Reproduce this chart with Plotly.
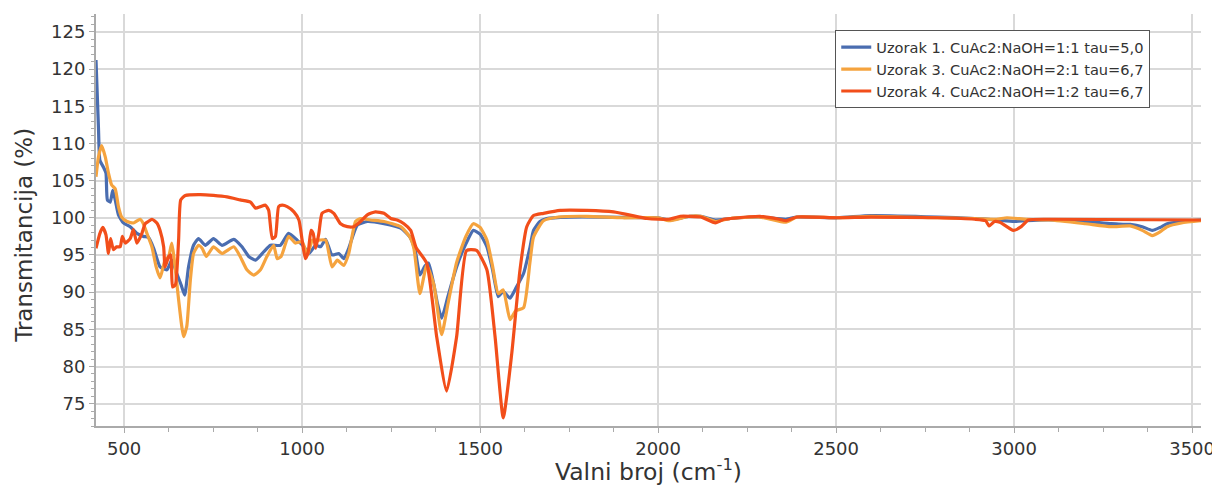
import plotly.graph_objects as go

# Uzorak 1 (blue)
x_u1 = [421, 425, 428, 432, 442, 449, 453, 461, 468, 475, 484, 498, 517, 536, 554, 568, 583,
        601, 620, 634, 648, 660, 670, 681, 695, 709, 728, 751, 775, 808, 831, 850, 869, 892,
        911, 939, 962, 986, 1005, 1019, 1038, 1052, 1066, 1084, 1103, 1117, 1131, 1155, 1183,
        1230, 1277, 1303, 1318, 1331, 1345, 1355, 1370, 1380, 1392, 1410, 1434, 1460, 1481,
        1500, 1519, 1535, 1551, 1565, 1584, 1600, 1622, 1640, 1650, 1668, 1687, 1750, 1850,
        1950, 2000, 2031, 2088, 2120, 2161, 2203, 2286, 2359, 2390, 2504, 2598, 2785, 2889,
        2950, 3000, 3034, 3097, 3200, 3273, 3326, 3360, 3388, 3410, 3430, 3470, 3525]
y_u1 = [121.2, 116.0, 112.0, 107.7, 106.8, 106.0, 102.4, 102.1, 103.7, 102.4, 100.4, 99.3, 98.8,
        97.9, 97.5, 97.4, 95.9, 93.4, 93.0, 94.3, 92.5, 91.0, 89.6, 93.4, 96.3, 97.2, 96.3, 97.2,
        96.3, 97.1, 96.1, 94.8, 94.3, 95.4, 96.3, 96.3, 97.9, 97.0, 96.1, 95.2, 96.3, 96.1, 97.1,
        95.0, 95.2, 94.5, 95.9, 99.0, 99.5, 99.2, 98.6, 97.4, 95.5, 92.3, 93.5, 93.9, 91.0, 88.5,
        86.5, 89.5, 93.4, 96.5, 98.3, 97.8, 96.1, 93.0, 89.4, 90.1, 89.2, 90.5, 92.5, 96.0, 98.3,
        99.5, 99.9, 100.1, 100.1, 100.0, 100.0, 99.7, 100.2, 100.2, 99.7, 99.9, 100.1, 99.8,
        100.1, 100.0, 100.3, 100.1, 99.9, 99.7, 99.5, 99.6, 99.7, 99.5, 99.2, 99.1, 98.8, 98.3,
        98.7, 99.2, 99.5, 99.7]

# Uzorak 3 (orange)
x_u3 = [421, 428, 437, 447, 456, 465, 475, 484, 493, 508, 526, 545, 554, 564, 578, 590, 601,
        615, 625, 634, 641, 653, 667, 676, 686, 695, 709, 719, 731, 751, 775, 808, 826, 845,
        864, 883, 901, 920, 930, 941, 962, 981, 1000, 1015, 1029, 1047, 1066, 1084, 1099, 1117,
        1131, 1150, 1164, 1192, 1230, 1277, 1303, 1314, 1331, 1350, 1370, 1392, 1410, 1434,
        1460, 1481, 1500, 1519, 1535, 1551, 1565, 1584, 1600, 1622, 1640, 1650, 1678, 1720,
        1800, 1900, 2000, 2031, 2088, 2120, 2161, 2203, 2286, 2359, 2390, 2504, 2598, 2785,
        2889, 2950, 2980, 3034, 3100, 3200, 3273, 3326, 3360, 3388, 3410, 3430, 3470, 3525]
y_u3 = [105.5, 108.2, 109.7, 108.2, 106.0, 104.4, 103.9, 101.5, 100.1, 99.5, 99.3, 99.8, 99.2,
        97.9, 96.1, 93.4, 91.9, 94.3, 94.8, 96.6, 94.3, 89.0, 84.0, 85.4, 91.6, 95.2, 96.3, 95.9,
        94.8, 96.1, 95.2, 96.1, 94.8, 93.0, 92.3, 93.0, 94.8, 96.3, 94.5, 94.8, 97.5, 96.6, 96.8,
        95.0, 97.0, 97.0, 97.0, 93.4, 94.3, 93.6, 95.2, 99.5, 99.9, 99.7, 99.5, 98.8, 97.4, 95.9,
        89.8, 93.6, 91.0, 84.3, 88.5, 94.0, 97.5, 99.2, 98.7, 97.0, 93.5, 89.8, 90.3, 86.3, 87.5,
        87.9, 94.0, 97.4, 99.6, 100.1, 100.2, 100.0, 100.0, 99.6, 100.2, 100.2, 99.5, 99.9, 100.1,
        99.4, 100.1, 100.0, 100.2, 100.0, 99.9, 99.8, 100.0, 99.8, 99.7, 99.2, 98.8, 98.9, 98.3,
        97.6, 98.1, 98.8, 99.3, 99.6]

# Uzorak 4 (red)
x_u4 = [421, 432, 440, 449, 456, 462, 470, 479, 489, 495, 503, 517, 526, 536, 550, 559, 568,
        578, 592, 601, 611, 615, 625, 631, 636, 644, 653, 659, 672, 714, 751, 789, 826, 855,
        869, 883, 897, 906, 916, 925, 934, 944, 958, 977, 991, 1000, 1009, 1017, 1025, 1031,
        1038, 1047, 1056, 1075, 1089, 1108, 1127, 1145, 1164, 1183, 1206, 1230, 1249, 1267,
        1286, 1305, 1320, 1350, 1378, 1406, 1434, 1462, 1490, 1519, 1542, 1565, 1589, 1612,
        1631, 1650, 1678, 1725, 1800, 1875, 1969, 2000, 2031, 2062, 2088, 2120, 2161, 2185,
        2203, 2286, 2340, 2359, 2390, 2504, 2598, 2785, 2889, 2920, 2930, 2945, 2960, 2998,
        3020, 3040, 3100, 3525]
y_u4 = [95.9, 97.9, 98.7, 97.7, 95.2, 97.2, 95.7, 96.1, 96.1, 97.5, 96.6, 97.2, 98.4, 96.6,
        97.9, 99.2, 99.5, 99.8, 99.3, 98.3, 96.1, 93.4, 94.8, 95.0, 90.7, 91.0, 97.0, 102.4,
        103.0, 103.1, 103.0, 102.8, 102.4, 102.1, 101.3, 101.5, 101.7, 101.0, 97.2, 97.5, 101.5,
        101.7, 101.5, 100.8, 99.7, 97.0, 94.5, 95.4, 98.3, 97.9, 95.9, 97.9, 100.6, 101.0, 100.6,
        99.2, 98.8, 98.8, 99.5, 100.4, 100.8, 100.6, 99.9, 99.7, 99.2, 98.3, 96.0, 93.9, 84.0,
        76.7, 84.0, 95.6, 95.6, 93.0, 84.0, 73.1, 81.8, 93.0, 98.8, 100.3, 100.6, 101.0, 101.0,
        100.8, 99.9, 99.8, 99.8, 100.2, 100.2, 100.1, 99.3, 99.8, 99.9, 100.2, 99.8, 99.6, 100.1,
        100.0, 100.1, 100.0, 99.8, 99.6, 98.9, 99.5, 99.4, 98.3, 98.8, 99.7, 99.8, 99.7]

names = ["Uzorak 1. CuAc2:NaOH=1:1 tau=5,0",
         "Uzorak 3. CuAc2:NaOH=2:1 tau=6,7",
         "Uzorak 4. CuAc2:NaOH=1:2 tau=6,7"]
colors = ["#4a6db0", "#f5a33e", "#f24e1a"]

x_ticks = [500, 1000, 1500, 2000, 2500, 3000, 3500]
y_ticks = [75, 80, 85, 90, 95, 100, 105, 110, 115, 120, 125]

fig = go.Figure()
for xs, ys, nm, c in zip([x_u1, x_u3, x_u4], [y_u1, y_u3, y_u4], names, colors):
    fig.add_trace(go.Scatter(x=xs, y=ys, mode="lines", name=nm,
                             line=dict(color=c, width=3.2, shape="spline", smoothing=0.5)))

# page body has an 8px margin, so the figure is sized/offset to compensate
fig.update_layout(
    width=1212, height=478,
    margin=dict(l=88, r=19, t=6, b=60),
    paper_bgcolor="white", plot_bgcolor="white",
    font=dict(family="DejaVu Sans", color="#333333"),
    legend=dict(x=0.669, y=0.961, xanchor="left", yanchor="top",
                bordercolor="#555555", borderwidth=1, bgcolor="white",
                font=dict(size=14.6, color="#333333"), itemwidth=30,
                tracegroupgap=0),
    showlegend=True,
)
fig.add_annotation(
    text="Transmitancija (%)", textangle=-90, showarrow=False,
    xref="paper", yref="paper", x=-0.0652, y=0.464,
    xanchor="center", yanchor="middle", font=dict(size=23, color="#333333"),
)
fig.update_xaxes(
    range=[421, 3525], tickvals=x_ticks, ticktext=[str(v) for v in x_ticks],
    showgrid=True, gridcolor="#d9d9d9", gridwidth=1.5,
    showline=True, linecolor="#aaaaaa", linewidth=2,
    ticks="outside", ticklen=5, tickcolor="#aaaaaa",
    minor=dict(dtick=125, tick0=0, ticks="outside", ticklen=4, tickcolor="#aaaaaa", showgrid=False),
    tickfont=dict(size=18),
    title=dict(text="Valni broj (cm<sup>-1</sup>)", font=dict(size=23.5), standoff=0),
    zeroline=False, automargin=False,
)
fig.update_yaxes(
    range=[72, 127.4], tickvals=y_ticks, ticktext=[str(v) for v in y_ticks],
    showgrid=True, gridcolor="#d9d9d9", gridwidth=1.5,
    showline=True, linecolor="#aaaaaa", linewidth=2,
    ticks="outside", ticklen=5, tickcolor="#aaaaaa",
    minor=dict(dtick=1, tick0=0, ticks="outside", ticklen=3, tickcolor="#aaaaaa", showgrid=False),
    tickfont=dict(size=18),
    zeroline=False, automargin=False,
)

fig.write_html("out.html")
